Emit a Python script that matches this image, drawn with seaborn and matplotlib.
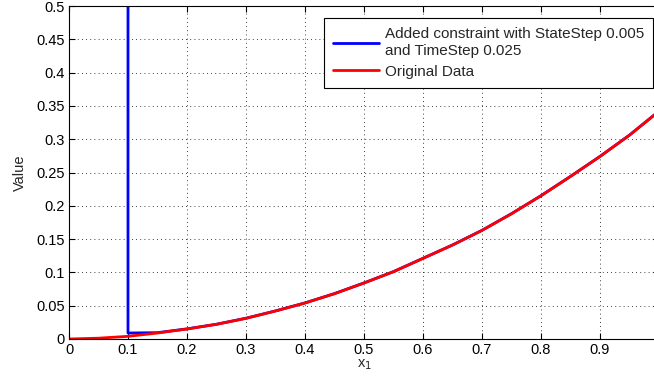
import numpy as np
import pandas as pd
import seaborn as sns
import matplotlib.pyplot as plt

# values
x_orig = [0.0, 0.05, 0.1, 0.15, 0.2, 0.25, 0.3, 0.35, 0.4, 0.45, 0.5,
          0.55, 0.6, 0.65, 0.7, 0.75, 0.8, 0.85, 0.9, 0.95, 1.0]
y_orig = [0.0, 0.0012, 0.004, 0.009, 0.015, 0.022, 0.031, 0.042, 0.054, 0.068, 0.084,
          0.101, 0.121, 0.141, 0.163, 0.188, 0.215, 0.244, 0.274, 0.306, 0.342]

x_constr = [0.1, 0.1, 0.15, 0.2, 0.25, 0.3, 0.35, 0.4, 0.45, 0.5,
            0.55, 0.6, 0.65, 0.7, 0.75, 0.8, 0.85, 0.9, 0.95, 1.0]
y_constr = [0.6, 0.009, 0.0095, 0.0152, 0.0222, 0.0312, 0.0422, 0.0542, 0.0682, 0.0842,
            0.1012, 0.1212, 0.1412, 0.1632, 0.1882, 0.2152, 0.2442, 0.2742, 0.3062, 0.3422]

label_constr = "Added constraint with StateStep 0.005\nand TimeStep 0.025"
label_orig = "Original Data"

x_ticks = [0, 0.1, 0.2, 0.3, 0.4, 0.5, 0.6, 0.7, 0.8, 0.9]
x_ticklabels = ["0", "0.1", "0.2", "0.3", "0.4", "0.5", "0.6", "0.7", "0.8", "0.9"]
y_ticks = [0, 0.05, 0.1, 0.15, 0.2, 0.25, 0.3, 0.35, 0.4, 0.45, 0.5]
y_ticklabels = ["0", "0.05", "0.1", "0.15", "0.2", "0.25", "0.3", "0.35", "0.4", "0.45", "0.5"]

sns.set_style("ticks")
plt.rcParams["font.family"] = ["Liberation Sans", "DejaVu Sans"]
fs = 10.5

df_constr = pd.DataFrame({"x": x_constr, "y": y_constr})
df_orig = pd.DataFrame({"x": x_orig, "y": y_orig})

fig = plt.figure(figsize=(6.54, 3.88), dpi=100)
# axes run a little past the right edge, as in the cropped reference
ax = fig.add_axes([69 / 654, 49 / 388, 590 / 654, 333 / 388])

sns.lineplot(data=df_constr, x="x", y="y", sort=False, estimator=None,
             color="#0000ff", linewidth=2.0, label=label_constr, ax=ax)
sns.lineplot(data=df_orig, x="x", y="y", sort=False, estimator=None,
             color="#ff0000", linewidth=2.0, label=label_orig, ax=ax)

ax.set_xlim(0, 1)
ax.set_ylim(0, 0.5)
ax.set_xticks(x_ticks)
ax.set_xticklabels(x_ticklabels)
ax.set_yticks(y_ticks)
ax.set_yticklabels(y_ticklabels)
ax.tick_params(direction="in", length=4, width=0.8, top=True, right=True,
               labelsize=fs, colors="black", pad=3)
ax.grid(True, linestyle=(0, (1, 4)), color="black", linewidth=0.6)
for s in ax.spines.values():
    s.set_color("black")
    s.set_linewidth(0.8)

ax.set_xlabel("x$_1$", fontsize=fs, labelpad=0)
ax.set_ylabel("Value", fontsize=fs, labelpad=7)

leg = ax.legend(loc="upper left", bbox_to_anchor=(0.432, 0.963), borderaxespad=0,
                fancybox=False, framealpha=1, edgecolor="black", fontsize=11,
                handlelength=3.0, handletextpad=0.4, labelspacing=0.45,
                borderpad=0.6)
leg.get_frame().set_linewidth(0.8)

fig.savefig("out.png", dpi=100)
